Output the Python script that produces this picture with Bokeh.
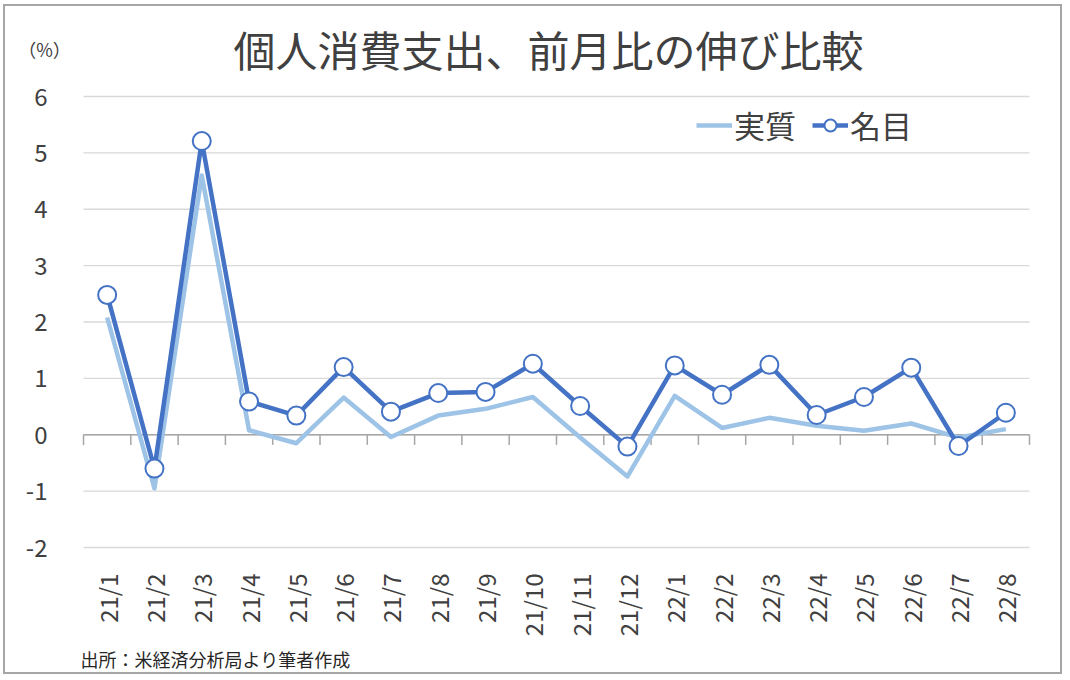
import math
from bokeh.plotting import figure
from bokeh.models import Range1d, FixedTicker, Label, Legend, LegendItem, LinearAxis
from bokeh.embed import file_html
from bokeh.resources import INLINE

# ---- data ----
months = ["21/1", "21/2", "21/3", "21/4", "21/5", "21/6", "21/7", "21/8", "21/9", "21/10",
          "21/11", "21/12", "22/1", "22/2", "22/3", "22/4", "22/5", "22/6", "22/7", "22/8"]
real = [2.08, -0.95, 4.6, 0.08, -0.15, 0.66, -0.04, 0.34, 0.46, 0.67,
        -0.05, -0.74, 0.69, 0.12, 0.30, 0.16, 0.07, 0.20, -0.05, 0.10]
nominal = [2.48, -0.60, 5.21, 0.59, 0.34, 1.20, 0.41, 0.74, 0.76, 1.26,
           0.51, -0.21, 1.23, 0.71, 1.24, 0.35, 0.67, 1.19, -0.20, 0.39]
y_ticks = [-2, -1, 0, 1, 2, 3, 4, 5, 6]
series_names = ["実質", "名目"]
title_text = "個人消費支出、前月比の伸び比較"
unit_text = "（%）"
source_text = "出所：米経済分析局より筆者作成"

FONT = "Noto Sans CJK JP"
TEXT = "#404040"
C_REAL = "#9DC3E6"
C_NOM = "#4472C4"
n = len(months)
xs = [i + 0.5 for i in range(n)]
bounds = list(range(n + 1))
y_lo, y_hi = y_ticks[0], y_ticks[-1]

# ---- layout (pixels) ----
W, H = 1059, 670            # canvas inside a 2px CSS border
PL, PR, PT, PB = 78, 35, 90, 129   # plot area insets within canvas
sx = (W - PL - PR) / n
sy = (H - PT - PB) / (y_hi - y_lo)
x_range = Range1d(-PL / sx, n + PR / sx)
y_range = Range1d(y_lo - PB / sy, y_hi + PT / sy)

p = figure(width=W, height=H, x_range=x_range, y_range=y_range,
           x_axis_location=None, y_axis_location=None,
           output_backend="svg", toolbar_location=None,
           min_border=0, min_border_left=0, min_border_right=0,
           min_border_top=0, min_border_bottom=0)
p.styles = {"border": "2px solid #A6A6A6", "margin-left": "3px", "margin-top": "4px"}
p.outline_line_color = None
p.background_fill_color = "white"
p.border_fill_color = "white"
p.grid.visible = False

# axes placed at the plot-area edges
xaxis = LinearAxis(fixed_location=y_lo, ticker=FixedTicker(ticks=xs),
                   major_label_overrides={x: m for x, m in zip(xs, months)},
                   major_label_orientation=math.pi / 2,
                   axis_line_color=None, major_tick_line_color=None,
                   minor_tick_line_color=None, major_label_standoff=20,
                   major_label_text_font=FONT, major_label_text_font_size="24px",
                   major_label_text_color=TEXT)
p.add_layout(xaxis, "below")
yaxis = LinearAxis(fixed_location=0, ticker=FixedTicker(ticks=y_ticks),
                   major_label_overrides={t: str(t) for t in y_ticks},
                   axis_line_color=None, major_tick_line_color=None,
                   minor_tick_line_color=None, major_label_standoff=30,
                   major_label_text_font=FONT, major_label_text_font_size="24px",
                   major_label_text_color=TEXT)
p.add_layout(yaxis, "left")

# horizontal gridlines across the plot area
p.segment(x0=[0] * len(y_ticks), x1=[n] * len(y_ticks), y0=y_ticks, y1=y_ticks,
          line_color="#D9D9D9", line_width=1.3)

# zero axis line with category tick marks
p.segment(x0=[0], x1=[n], y0=[0], y1=[0], line_color="#A6A6A6", line_width=1.5)
p.segment(x0=bounds, x1=bounds, y0=[0] * len(bounds), y1=[-0.18] * len(bounds),
          line_color="#A6A6A6", line_width=1.5)

# series
r_real = p.line(xs, real, line_color=C_REAL, line_width=4.5, line_join="round")
r_nom = p.line(xs, nominal, line_color=C_NOM, line_width=4.5, line_join="round")
r_nom_m = p.scatter(xs, nominal, marker="circle", size=18, fill_color="white",
                    line_color=C_NOM, line_width=2)

legend = Legend(items=[LegendItem(label=series_names[0], renderers=[r_real]),
                       LegendItem(label=series_names[1], renderers=[r_nom, r_nom_m])],
                orientation="horizontal", location=(691, 529),
                label_text_font=FONT, label_text_font_size="31px",
                label_text_color=TEXT, glyph_width=36, glyph_height=30,
                label_height=30, label_standoff=2, spacing=16, padding=0, margin=0,
                border_line_color=None, background_fill_alpha=0)
p.add_layout(legend)

# texts (screen units from the canvas' bottom-left corner)
p.add_layout(Label(x=543, y=H - 42, x_units="screen", y_units="screen", text=title_text,
                   text_font=FONT, text_font_size="42px", text_color=TEXT,
                   text_align="center", text_baseline="middle"))
p.add_layout(Label(x=39, y=H - 42, x_units="screen", y_units="screen", text=unit_text,
                   text_font=FONT, text_font_size="18px", text_color=TEXT,
                   text_align="center", text_baseline="middle"))
p.add_layout(Label(x=75, y=H - 652, x_units="screen", y_units="screen", text=source_text,
                   text_font=FONT, text_font_size="18px", text_color="#262626",
                   text_align="left", text_baseline="middle"))

open("out.html", "w").write(file_html(p, INLINE))
